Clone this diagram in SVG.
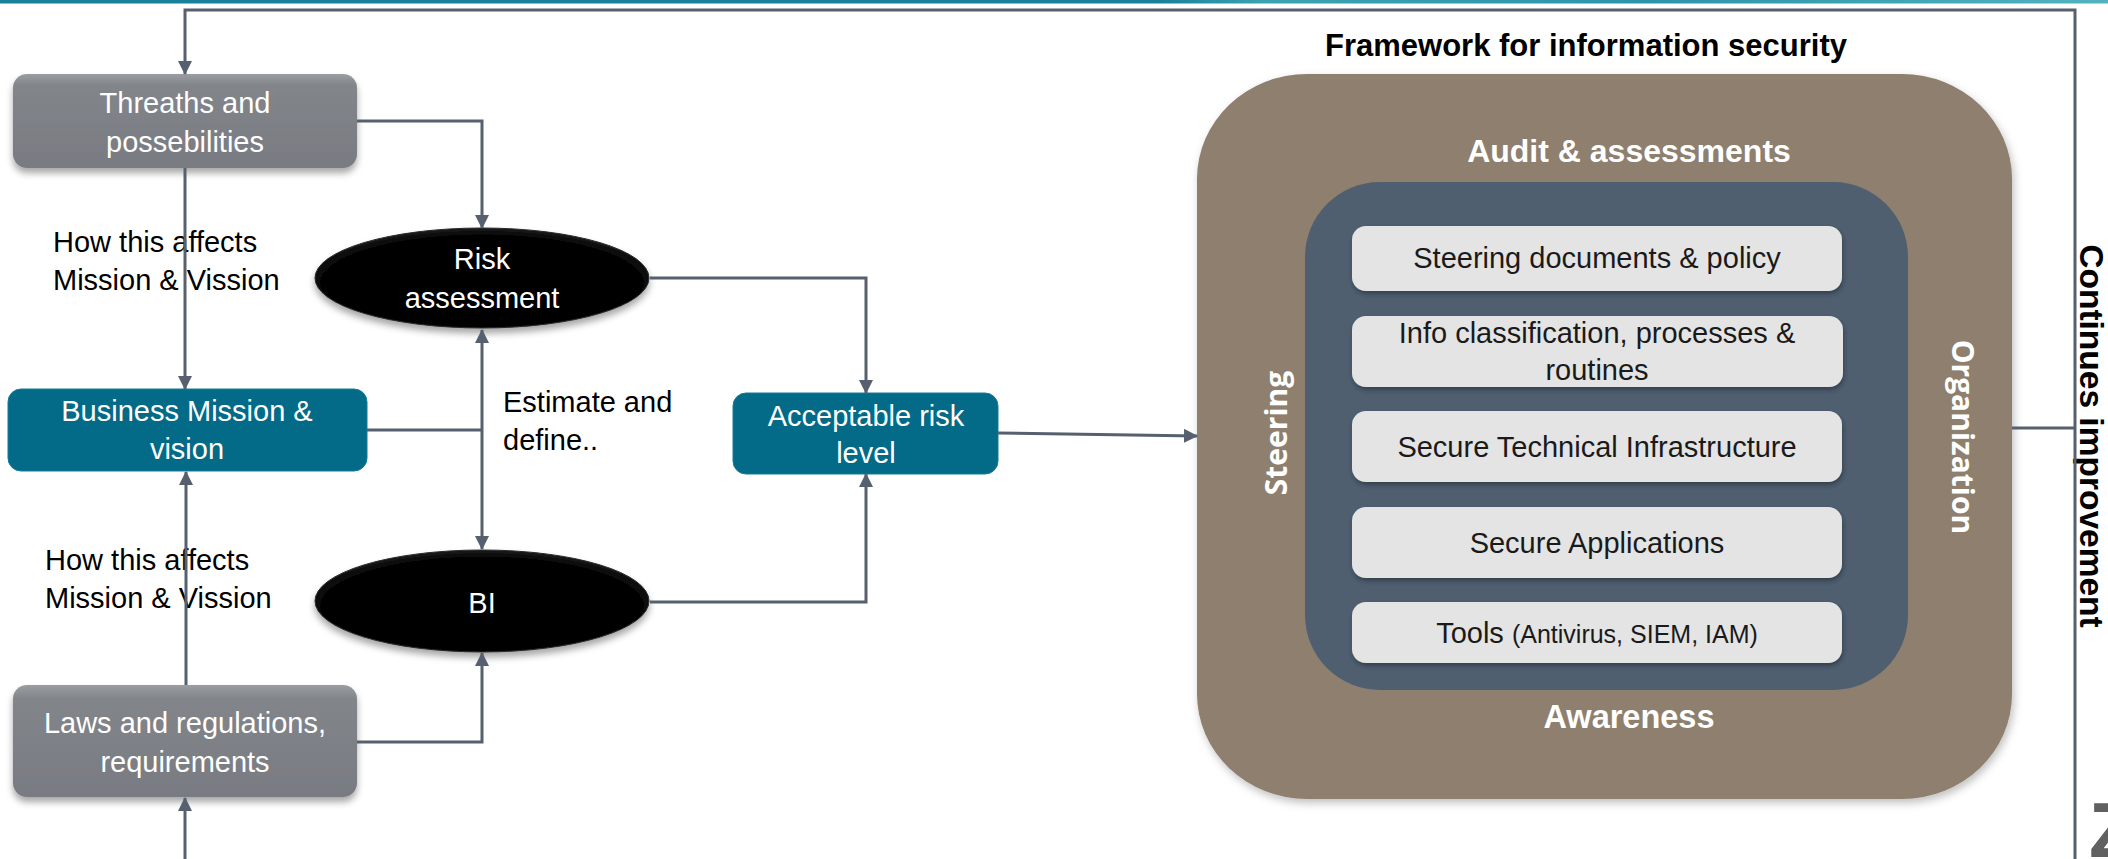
<svg xmlns="http://www.w3.org/2000/svg" width="2108" height="859" viewBox="0 0 2108 859">
  <defs>
    <style>
      .lbl { font-family: "Liberation Sans", Arial, sans-serif; font-size: 29px; }
      .wt { fill: #ffffff; }
      .bk { fill: #000000; }
      .fw { fill: #1a1a1a; }
      .bold { font-weight: bold; }
      .os { font-family: "Open Sans", "Liberation Sans", sans-serif; font-weight: bold; font-size: 30px; fill: #ffffff; }
      .con { fill: none; stroke: #56606e; stroke-width: 3; }
      .gray { fill: url(#gGray); filter: url(#sh); }
      .teal { fill: #036a87; stroke: #127d98; stroke-width: 1; }
      .ell { fill: url(#gEll); stroke: #2a2a2a; stroke-width: 1; filter: url(#sh); }
      .lt { fill: #e4e4e4; filter: url(#sh2); }
    </style>
    <linearGradient id="gBar" x1="0" y1="0" x2="1" y2="0">
      <stop offset="0" stop-color="#18809b"/>
      <stop offset="0.55" stop-color="#1a7f9a"/>
      <stop offset="0.6" stop-color="#3aa3b3"/>
      <stop offset="0.78" stop-color="#2d93aa"/>
      <stop offset="1" stop-color="#52b3bf"/>
    </linearGradient>
    <linearGradient id="gGray" x1="0" y1="0" x2="0" y2="1">
      <stop offset="0" stop-color="#9a9da1"/>
      <stop offset="0.12" stop-color="#82858a"/>
      <stop offset="1" stop-color="#787b81"/>
    </linearGradient>
    <radialGradient id="gEll" cx="0.5" cy="0.55" r="0.6">
      <stop offset="0" stop-color="#000000"/>
      <stop offset="0.8" stop-color="#050505"/>
      <stop offset="1" stop-color="#2b2b2b"/>
    </radialGradient>
    <filter id="sh" x="-10%" y="-15%" width="125%" height="145%">
      <feDropShadow dx="0" dy="5" stdDeviation="3.5" flood-color="#000" flood-opacity="0.35"/>
    </filter>
    <filter id="sh2" x="-5%" y="-15%" width="112%" height="145%">
      <feDropShadow dx="1" dy="3" stdDeviation="2" flood-color="#1e2833" flood-opacity="0.55"/>
    </filter>
    <filter id="sh3" x="-5%" y="-5%" width="112%" height="112%">
      <feDropShadow dx="2" dy="4" stdDeviation="4" flood-color="#000" flood-opacity="0.25"/>
    </filter>
    <marker id="ah" viewBox="0 0 14 14" refX="13" refY="7" markerWidth="14" markerHeight="14" markerUnits="userSpaceOnUse" orient="auto-start-reverse">
      <path d="M0,0 L14,7 L0,14 z" fill="#56606e"/>
    </marker>
  </defs>

  <rect x="0" y="0" width="2108" height="3.5" fill="url(#gBar)"/>

  <!-- Left nodes -->
  <g id="threats">
    <rect class="gray" x="13" y="74" width="344" height="94" rx="14"/>
    <text class="lbl wt" x="185" y="113" text-anchor="middle">Threaths and</text>
    <text class="lbl wt" x="185" y="152" text-anchor="middle">possebilities</text>
  </g>
  <g id="business">
    <rect class="teal" x="8" y="389" width="359" height="82" rx="13"/>
    <text class="lbl wt" x="187" y="421" text-anchor="middle">Business Mission &amp;</text>
    <text class="lbl wt" x="187" y="459" text-anchor="middle">vision</text>
  </g>
  <g id="laws">
    <rect class="gray" x="13" y="685" width="344" height="112" rx="14"/>
    <text class="lbl wt" x="185" y="733" text-anchor="middle">Laws and regulations,</text>
    <text class="lbl wt" x="185" y="772" text-anchor="middle">requirements</text>
  </g>
  <g id="risk">
    <ellipse class="ell" cx="482" cy="278" rx="167" ry="50"/>
    <text class="lbl wt" x="482" y="269" text-anchor="middle">Risk</text>
    <text class="lbl wt" x="482" y="308" text-anchor="middle">assessment</text>
  </g>
  <g id="bi">
    <ellipse class="ell" cx="482" cy="601" rx="167" ry="51"/>
    <text class="lbl wt" x="482" y="613" text-anchor="middle">BI</text>
  </g>
  <g id="acceptable">
    <rect class="teal" x="733" y="393" width="265" height="81" rx="13"/>
    <text class="lbl wt" x="866" y="426" text-anchor="middle">Acceptable risk</text>
    <text class="lbl wt" x="866" y="463" text-anchor="middle">level</text>
  </g>

  <!-- Framework -->
  <g id="framework">
    <text class="lbl bold bk" x="1586" y="56" text-anchor="middle" style="font-size:31px">Framework for information security</text>
    <rect x="1197" y="74" width="815" height="725" rx="110" ry="105" fill="#8e7f6e" filter="url(#sh3)"/>
    <text class="lbl bold wt" x="1629" y="162" text-anchor="middle" style="font-size:32px">Audit &amp; assessments</text>
    <text class="lbl bold wt" x="1629" y="728" text-anchor="middle" style="font-size:32.5px">Awareness</text>
    <text class="os" x="1287" y="433" text-anchor="middle" transform="rotate(-90 1287 433)">Steering</text>
    <text class="os" x="1952" y="437" text-anchor="middle" transform="rotate(90 1952 437)">Organization</text>
    <rect x="1305" y="182" width="603" height="508" rx="75" fill="#4f5f70"/>
  </g>
  <g id="fw-steering-docs">
    <rect class="lt" x="1352" y="226" width="490" height="65" rx="14"/>
    <text class="lbl fw" x="1597" y="268" text-anchor="middle">Steering documents &amp; policy</text>
  </g>
  <g id="fw-info-class">
    <rect class="lt" x="1352" y="316" width="491" height="71" rx="14"/>
    <text class="lbl fw" x="1597" y="343" text-anchor="middle">Info classification, processes &amp;</text>
    <text class="lbl fw" x="1597" y="380" text-anchor="middle">routines</text>
  </g>
  <g id="fw-infra">
    <rect class="lt" x="1352" y="411" width="490" height="71" rx="14"/>
    <text class="lbl fw" x="1597" y="457" text-anchor="middle">Secure Technical Infrastructure</text>
  </g>
  <g id="fw-apps">
    <rect class="lt" x="1352" y="507" width="490" height="71" rx="14"/>
    <text class="lbl fw" x="1597" y="553" text-anchor="middle">Secure Applications</text>
  </g>
  <g id="fw-tools">
    <rect class="lt" x="1352" y="602" width="490" height="61" rx="14"/>
    <text class="lbl fw" x="1597" y="643" text-anchor="middle">Tools <tspan style="font-size:25px">(Antivirus, SIEM, IAM)</tspan></text>
  </g>

  <!-- Free labels -->
  <g id="labels">
    <text class="lbl bk" x="53" y="252">How this affects</text>
    <text class="lbl bk" x="53" y="290">Mission &amp; Vission</text>
    <text class="lbl bk" x="45" y="570">How this affects</text>
    <text class="lbl bk" x="45" y="608">Mission &amp; Vission</text>
    <text class="lbl bk" x="503" y="412">Estimate and</text>
    <text class="lbl bk" x="503" y="450">define..</text>
    <text class="lbl bold bk" x="2080" y="436" text-anchor="middle" transform="rotate(90 2080 436)" style="font-size:33.5px">Continues improvement</text>
    <text x="2089" y="857" font-family="Liberation Sans, Arial, sans-serif" font-weight="bold" font-size="77" fill="#606060">Z</text>
  </g>

  <!-- Connectors -->
  <g id="connectors">
    <path class="con" d="M2075 859 V10 H185 V74" marker-end="url(#ah)"/>
    <path class="con" d="M2012 428 H2075"/>
    <path class="con" d="M185 859 V798" marker-end="url(#ah)"/>
    <path class="con" d="M357 121 H482 V228" marker-end="url(#ah)"/>
    <path class="con" d="M185 168 V389" marker-end="url(#ah)"/>
    <path class="con" d="M186 685 V472" marker-end="url(#ah)"/>
    <path class="con" d="M357 742 H482 V653" marker-end="url(#ah)"/>
    <path class="con" d="M482 330 V549" marker-start="url(#ah)" marker-end="url(#ah)"/>
    <path class="con" d="M367 430 H482"/>
    <path class="con" d="M650 278 H866 V393" marker-end="url(#ah)"/>
    <path class="con" d="M650 602 H866 V474" marker-end="url(#ah)"/>
    <path class="con" d="M998 433 L1197 436" marker-end="url(#ah)"/>
  </g>
</svg>
